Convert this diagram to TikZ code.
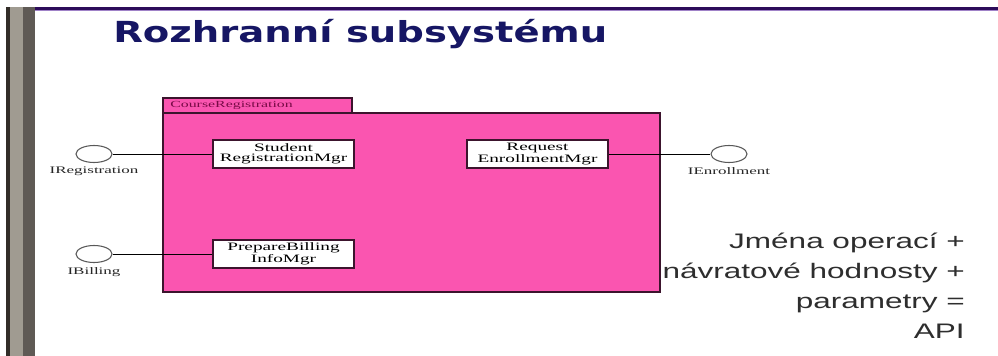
\documentclass[tikz,border=0pt]{standalone}
\usepackage{fontspec}
\setmainfont{Liberation Serif}
\newfontfamily\umlfont[FakeStretch=1.7]{Liberation Serif}
\newfontfamily\apifont[FakeStretch=1.5]{Liberation Sans}
\newfontfamily\titlefont[FakeStretch=1.33]{DejaVu Sans}
\usetikzlibrary{positioning,shapes.geometric}

\definecolor{pkgpink}{RGB}{250,85,176}
\definecolor{pkgline}{RGB}{60,20,45}
\definecolor{pkgtext}{RGB}{120,10,70}
\definecolor{titleblue}{RGB}{22,22,100}
\definecolor{framepurple}{RGB}{45,12,90}
\definecolor{framelav}{RGB}{160,130,200}
\definecolor{bardark}{RGB}{50,45,40}
\definecolor{barlight}{RGB}{160,155,145}
\definecolor{barmid}{RGB}{95,90,85}

\begin{document}
\begin{tikzpicture}[x=0.75pt, y=-0.75pt,
  pkg/.style={draw=pkgline, fill=pkgpink, line width=0.9pt},
  mgr/.style={draw=pkgline, fill=white, line width=0.9pt, align=center, minimum width=105.75pt, minimum height=21pt, inner sep=0pt, font=\umlfont\fontsize{8.5}{7.5}\selectfont},
  iface/.style={ellipse, draw=black!65, fill=white, line width=0.8pt, minimum width=27pt, minimum height=12.75pt, inner sep=0pt},
  ilabel/.style={font=\umlfont\fontsize{7.5}{9}\selectfont, text=black!85, inner sep=0pt},
  apitext/.style={anchor=base east, inner sep=0pt, text=black!82, font=\apifont\fontsize{15.75}{18}\selectfont}]
\useasboundingbox (0,0) rectangle (998,356);
\fill[white] (0,0) rectangle (998,356);
% slide frame
\fill[bardark] (6,7) rectangle (10,356);
\fill[barlight] (10,7) rectangle (23,356);
\fill[barmid] (23,7) rectangle (35,356);
\fill[framepurple] (35,7) rectangle (998,10);
\fill[framelav] (35,10) rectangle (998,11.5);
\node[anchor=base west, inner sep=0pt, text=titleblue, font=\titlefont\bfseries\fontsize{21.75}{24}\selectfont] (title) at (113,43) {Rozhranní subsystému};
% package
\draw[pkg] (163,98) rectangle (352,113);
\draw[pkg] (163,113) rectangle (660,292);
\node[anchor=west, inner sep=0pt, text=pkgtext, font=\umlfont\fontsize{7}{8}\selectfont] (cr) at (170,105.5) {CourseRegistration};
% classes
\node[mgr] (sr) at (283.5,154) {Student\\RegistrationMgr};
\node[mgr] (re) at (537.5,154) {Request\\EnrollmentMgr};
\node[mgr] (pb) at (283.5,254) {PrepareBilling\\InfoMgr};
% interfaces
\node[iface] (ir) at (94,154) {};
\node[iface] (ie) at (729,154) {};
\node[iface] (ib) at (94,254) {};
\node[ilabel, below=3pt of ir] (irl) {IRegistration};
\node[ilabel, below=3pt of ie] (iel) {IEnrollment};
\node[ilabel, below=3pt of ib] (ibl) {IBilling};
\draw[line width=0.75pt] (ir) -- (sr);
\draw[line width=0.75pt] (re) -- (ie);
\draw[line width=0.75pt] (ib) -- (pb);
% API note
\foreach \ln [count=\i from 0] in {Jména operací +, návratové hodnosty +, parametry =, API}
  \node[apitext] (api\i) at (965,248+30*\i) {\ln};
\end{tikzpicture}
\end{document}
